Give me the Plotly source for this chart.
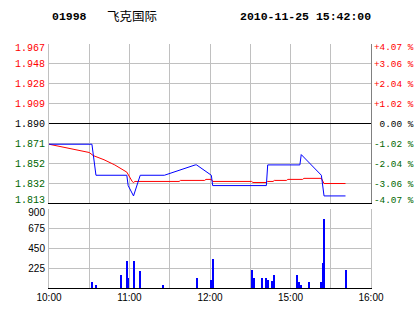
import plotly.graph_objects as go

# ---- data ----
stock_code = "01998"
stock_name = "飞克国际"
timestamp = "2010-11-25 15:42:00"
prev_close = 1.890

pct_levels = [4.07, 3.06, 2.04, 1.02, 0.00, -1.02, -2.04, -3.06, -4.07]
price_labels = ["1.967", "1.948", "1.928", "1.909", "1.890", "1.871", "1.852", "1.832", "1.813"]
pct_labels = ["+4.07 %", "+3.06 %", "+2.04 %", "+1.02 %", "\u00a00.00 %", "-1.02 %", "-2.04 %", "-3.06 %", "-4.07 %"]

# trading-minute index from 10:00 (lunch break removed)
time_ticks = [0, 30, 60, 90, 120, 150, 180, 210, 240]
time_labels = ["10:00", "", "11:00", "", "12:00", "", "15:00", "", "16:00"]

price_t = [0, 32, 35, 58, 59, 63, 68, 86, 109, 110, 121, 122, 162, 163, 187, 188, 203, 205, 221]
price_v = [1.87, 1.87, 1.84, 1.84, 1.83, 1.82, 1.84, 1.84, 1.85, 1.85, 1.84, 1.83, 1.83, 1.85, 1.85, 1.86, 1.84, 1.82, 1.82]

avg_t = [0, 30, 33, 41, 49, 58, 62, 63, 64, 97, 98, 116, 117, 121, 122, 151, 152, 162, 163, 167, 168, 177, 178, 189, 190, 203, 205, 221]
avg_v = [1.870, 1.862, 1.859, 1.855, 1.850, 1.843, 1.834, 1.833, 1.834, 1.834, 1.835, 1.835, 1.836, 1.836, 1.834, 1.834, 1.833, 1.833, 1.834, 1.834, 1.835, 1.835, 1.836, 1.836, 1.837, 1.837, 1.832, 1.832]

vol_t = [32, 35, 54, 58, 59, 63, 68, 85, 110, 121, 122, 151, 153, 159, 162, 163, 166, 168, 185, 186, 187, 188, 194, 203, 204, 205, 221]
vol_v = [60, 35, 140, 310, 115, 310, 195, 35, 115, 90, 330, 205, 115, 115, 115, 90, 80, 150, 150, 60, 35, 35, 60, 60, 285, 790, 205]

vol_ticks = [225, 450, 675, 900]
vol_max = 900

# ---- styling ----
UP = "#ff0000"
FLAT = "#000000"
DOWN = "#006600"
GRID = "#c0c0c0"
W, H = 414, 314
M = dict(l=49, r=43, t=44, b=26)
PRICE_DOM = [0.348, 1]
VOL_DOM = [0, 0.3225]
EDGE_NUDGE_PX = 3.2  # end labels sit slightly inside the panel


def col(p):
    return UP if p > 0 else (FLAT if p == 0 else DOWN)


lo = prev_close * (1 + min(pct_levels) / 100)
hi = prev_close * (1 + max(pct_levels) / 100)
price_tickvals = [prev_close * (1 + p / 100) for p in pct_levels]

plot_h = H - M["t"] - M["b"]
price_px = (PRICE_DOM[1] - PRICE_DOM[0]) * plot_h
vol_px = (VOL_DOM[1] - VOL_DOM[0]) * plot_h


def nudge(vals, vmin, vmax, px):
    d = EDGE_NUDGE_PX * (vmax - vmin) / px
    out = []
    for v in vals:
        if abs(v - vmax) < 1e-9:
            v = v - d
        elif abs(v - vmin) < 1e-9:
            v = v + d
        out.append(v)
    return out


price_labelvals = nudge(price_tickvals, lo, hi, price_px)
pct_labelvals = nudge(pct_levels, min(pct_levels), max(pct_levels), price_px)
vol_labelvals = nudge(vol_ticks, 0, vol_max, vol_px)

price_ticktext = [f'<span style="color:{col(p)}">{s}</span>' for p, s in zip(pct_levels, price_labels)]
pct_ticktext = [f'<span style="color:{col(p)}">{s}</span>' for p, s in zip(pct_levels, pct_labels)]

fig = go.Figure()
fig.add_trace(go.Scatter(x=avg_t, y=avg_v, mode="lines", line=dict(color="#ff0000", width=1),
                         xaxis="x", yaxis="y", hoverinfo="skip", showlegend=False))
fig.add_trace(go.Scatter(x=price_t, y=price_v, mode="lines", line=dict(color="#0000ff", width=1),
                         xaxis="x", yaxis="y", hoverinfo="skip", showlegend=False))
fig.add_trace(go.Bar(x=vol_t, y=vol_v, width=0.75, marker=dict(color="#0000ff", line=dict(width=0)),
                     xaxis="x2", yaxis="y2", hoverinfo="skip", showlegend=False))
# invisible helper traces so that the label-only overlay axes get drawn
for ya, yv, xa in (("y3", 0, "x"), ("y4", prev_close, "x"), ("y5", 0, "x2")):
    fig.add_trace(go.Scatter(x=[0], y=[yv], xaxis=xa, yaxis=ya, mode="markers",
                             marker=dict(opacity=0, size=1), hoverinfo="skip", showlegend=False))

mono = "Liberation Mono"
sans = "Liberation Sans"

fig.update_layout(
    width=W, height=H,
    margin=M,
    paper_bgcolor="white", plot_bgcolor="white",
    showlegend=False,
    bargap=0,
    xaxis=dict(domain=[0, 1], anchor="y", range=[0, 240], tickvals=time_ticks, showticklabels=False,
               showgrid=True, gridcolor=GRID, gridwidth=1, zeroline=False, automargin=False,
               showline=True, linecolor="#000000", linewidth=1, ticks=""),
    yaxis=dict(domain=PRICE_DOM, anchor="x", range=[lo, hi], tickvals=price_tickvals, showticklabels=False,
               showgrid=True, gridcolor=GRID, gridwidth=1, zeroline=False, automargin=False,
               showline=True, linecolor=GRID, linewidth=1, ticks=""),
    # left price labels
    yaxis4=dict(overlaying="y", side="left", anchor="x", range=[lo, hi], automargin=False,
                tickvals=price_labelvals, ticktext=price_ticktext, showgrid=False, zeroline=False,
                showline=False, ticks="",
                tickfont=dict(family=mono, size=10, color="#000000"), ticklabelstandoff=3),
    # right percent labels + previous-close line
    yaxis3=dict(overlaying="y", side="right", anchor="x", range=[min(pct_levels), max(pct_levels)],
                tickvals=pct_labelvals, ticktext=pct_ticktext, showgrid=False, automargin=False,
                zeroline=True, zerolinecolor="#000000", zerolinewidth=1,
                showline=True, linecolor="#808080", linewidth=1, ticks="",
                tickfont=dict(family=mono, size=9.4, color="#000000"), ticklabelstandoff=0),
    xaxis2=dict(domain=[0, 1], anchor="y2", range=[0, 240], tickvals=time_ticks, ticktext=time_labels,
                showgrid=True, gridcolor=GRID, gridwidth=1, zeroline=False, automargin=False,
                showline=True, linecolor="#000000", linewidth=1, ticks="",
                tickfont=dict(family=sans, size=10, color="#000000")),
    yaxis2=dict(domain=VOL_DOM, anchor="x2", range=[0, vol_max], tickvals=vol_ticks, showticklabels=False,
                showgrid=True, gridcolor=GRID, gridwidth=1, zeroline=False, automargin=False,
                showline=True, linecolor=GRID, linewidth=1, mirror=True, ticks=""),
    yaxis5=dict(overlaying="y2", side="left", anchor="x2", range=[0, vol_max], automargin=False,
                tickvals=vol_labelvals, ticktext=[str(v) for v in vol_ticks], showgrid=False,
                zeroline=False, showline=False, ticks="",
                tickfont=dict(family=sans, size=10, color="#000000"), ticklabelstandoff=3),
)

fig.add_annotation(text=f"<b>{stock_code}</b>", xref="paper", yref="paper", x=0.003, y=1.112,
                   xanchor="left", yanchor="middle", showarrow=False,
                   font=dict(family=mono, size=11.5, color="#000000"))
fig.add_annotation(text=stock_name, xref="paper", yref="paper", x=0.174, y=1.118,
                   xanchor="left", yanchor="middle", showarrow=False,
                   font=dict(family="Noto Sans CJK SC", size=12.5, color="#000000"))
fig.add_annotation(text=f"<b>{timestamp}</b>", xref="paper", yref="paper", x=0.587, y=1.112,
                   xanchor="left", yanchor="middle", showarrow=False,
                   font=dict(family=mono, size=11.5, color="#000000"))

fig.write_html("out.html")
